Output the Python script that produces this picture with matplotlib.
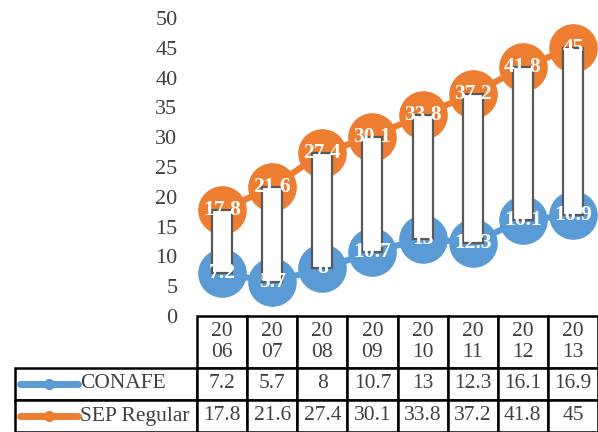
import matplotlib
matplotlib.use("Agg")
import matplotlib.pyplot as plt
import numpy as np

years = ["2006", "2007", "2008", "2009", "2010", "2011", "2012", "2013"]
conafe = [7.2, 5.7, 8, 10.7, 13, 12.3, 16.1, 16.9]
sep = [17.8, 21.6, 27.4, 30.1, 33.8, 37.2, 41.8, 45]
series_names = ["CONAFE", "SEP Regular"]
colors = ["#5B9BD5", "#ED7D31"]
yticks = [0, 5, 10, 15, 20, 25, 30, 35, 40, 45, 50]

plt.rcParams['font.family'] = ['Liberation Serif', 'DejaVu Serif']
txtcol = "#404040"

W, H = 598, 432
fig = plt.figure(figsize=(W / 100, H / 100), dpi=100)
ax_left, ax_right, ax_top, ax_bot = 197, 598, 18, 316
ax = fig.add_axes([ax_left / W, (H - ax_bot) / H, (ax_right - ax_left) / W, (ax_bot - ax_top) / H])

x = np.arange(len(years))
for vals, c in zip([conafe, sep], colors):
    ax.plot(x, vals, color=c, lw=4.5, marker='o', ms=34, zorder=2, solid_capstyle='round')

low = np.minimum(conafe, sep)
high = np.maximum(conafe, sep)
ax.bar(x, high - low, bottom=low, width=0.4, color='white', edgecolor='#595959', linewidth=1.6, zorder=3)

for vals in [conafe, sep]:
    for xi, v in zip(x, vals):
        ax.text(xi, v, f"{v:g}", ha='center', va='center', color='white', fontsize=15.5,
                fontweight='bold', zorder=5)

ax.set_xlim(-0.5, len(years) - 0.5)
ax.set_ylim(0, 50)
ax.set_yticks(yticks)
ax.set_yticklabels([str(t) for t in yticks], fontsize=16, color=txtcol)
ax.tick_params(axis='y', length=0, pad=14)
ax.set_xticks([])
for s in ['top', 'right', 'left', 'bottom']:
    ax.spines[s].set_visible(False)

# data table
ax_w = ax_right - ax_left
ax_h = ax_bot - ax_top
tbl_left = 15
first_w = ax_left - tbl_left
col_w = ax_w / len(years)
total_w = ax_right - tbl_left
header_h, row_h = 52, 32
tbl_h = header_h + 2 * row_h

cell_text = [[""] + [y[:2] + "\n" + y[2:] for y in years]]
for name, vals in zip(series_names, [conafe, sep]):
    cell_text.append([""] + [f"{v:g}" for v in vals])

table = ax.table(cellText=cell_text,
                 colWidths=[first_w / total_w] + [col_w / total_w] * len(years),
                 bbox=[(tbl_left - ax_left) / ax_w, -tbl_h / ax_h, total_w / ax_w, tbl_h / ax_h],
                 cellLoc='center')
table.auto_set_font_size(False)
for (r, c), cell in table.get_celld().items():
    cell.set_height(header_h if r == 0 else row_h)
    cell.set_linewidth(1.8)
    cell.set_edgecolor('black')
    cell.get_text().set_fontsize(15.5)
    cell.get_text().set_color(txtcol)
    cell.PAD = 0.02
    if r == 0:
        cell.get_text().set_linespacing(1.2)
    if r == 0 and c == 0:
        cell.visible_edges = ''

# legend keys and series names in the table
for i, (name, c) in enumerate(zip(series_names, colors)):
    yc = -(header_h + row_h * (i + 0.5)) / ax_h
    x0 = (20 - ax_left) / ax_w
    x1 = (78 - ax_left) / ax_w
    ax.plot([x0, x1], [yc, yc], transform=ax.transAxes, color=c, lw=5, clip_on=False,
            solid_capstyle='round')
    ax.plot([(x0 + x1) / 2], [yc], transform=ax.transAxes, color=c, marker='o', ms=7,
            clip_on=False)
    ax.text((80 - ax_left) / ax_w, yc, name, transform=ax.transAxes, ha='left', va='center',
            fontsize=15.5, color=txtcol, clip_on=False)

fig.savefig("out.png", dpi=100)
